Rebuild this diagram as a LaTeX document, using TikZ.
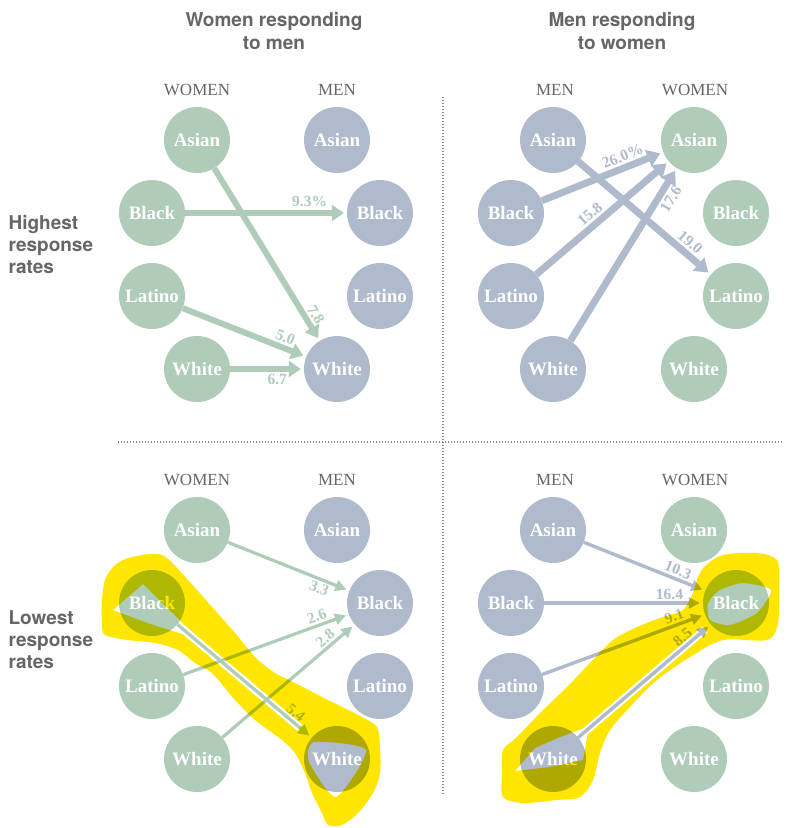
\documentclass[tikz,border=0pt]{standalone}
\usepackage{fontspec}
\setmainfont{Liberation Serif}
\newfontfamily\heros{TeX Gyre Heros}
\usetikzlibrary{arrows.meta}
\definecolor{cg}{HTML}{AFCCB9}
\definecolor{cb}{HTML}{AFBBCC}
\definecolor{txt}{HTML}{666666}
\definecolor{hl}{HTML}{FFE600}
\definecolor{dotc}{HTML}{8A8A8A}
\begin{document}
\begin{tikzpicture}[x=1pt,y=-1pt,
  gc/.style={circle,fill=cg,minimum size=66pt,inner sep=0pt,text=white,font=\fontsize{19}{19}\selectfont\bfseries},
  bc/.style={gc,fill=cb},
  hdr/.style={text=txt,font=\fontsize{17}{17}\selectfont},
  ttl/.style={text=txt,font=\heros\fontsize{19}{23}\selectfont\bfseries,align=center},
  rowlbl/.style={text=txt,font=\heros\fontsize{19}{22}\selectfont\bfseries,align=left,anchor=west},
  ga/.style={draw=cg,line width=6pt,-{Triangle[length=12pt,width=16pt]},shorten >=3pt},
  ba/.style={draw=cb,line width=7pt,-{Triangle[length=13pt,width=17pt]},shorten >=3pt},
  gt/.style={draw=cg,line width=3.2pt,-{Triangle[length=11pt,width=11pt]},shorten >=3pt},
  bt/.style={draw=cb,line width=3.4pt,-{Triangle[length=11pt,width=11pt]},shorten >=3pt},
  lbl/.style={font=\fontsize{15.5}{15.5}\selectfont\bfseries,sloped,inner sep=1.5pt},
  dots/.style={draw=dotc,line width=1.1pt,dash pattern=on 1.1pt off 1.9pt}
]
\fill[white] (0,0) rectangle (787,828);
\useasboundingbox (0,0) rectangle (787,828);

% titles and row labels
\node[ttl] (t1) at (274,31) {Women responding\\to men};
\node[ttl] (t2) at (622,31) {Men responding\\to women};
\node[rowlbl] (r1) at (5,245) {Highest\\response\\rates};
\node[rowlbl] (r2) at (5,640) {Lowest\\response\\rates};

% dotted separators
\coordinate (hs) at (118,442);
\coordinate (he) at (782,442);
\coordinate (vs) at (443,97);
\coordinate (ve) at (443,795);
\draw[dots] (hs) -- (he);
\draw[dots] (vs) -- (ve);

% headers and circles
\foreach \p/\dy in {t/0,b/390}{
  \node[hdr] (\p h1) at (197,90+\dy) {WOMEN};
  \node[hdr] (\p h2) at (337,90+\dy) {MEN};
  \node[hdr] (\p h3) at (555,90+\dy) {MEN};
  \node[hdr] (\p h4) at (695,90+\dy) {WOMEN};
  \foreach \n/\t/\xa/\xb/\y in {A/Asian/197/337/140, B/Black/152/380/213, L/Latino/152/380/296, W/White/197/337/369}{
    \node[gc] (\p LW\n) at (\xa,\y+\dy) {\t};
    \node[bc] (\p LM\n) at (\xb,\y+\dy) {\t};
  }
  \foreach \n/\t/\xa/\xb/\y in {A/Asian/553/694/140, B/Black/511/736/213, L/Latino/511/736/296, W/White/553/694/369}{
    \node[bc] (\p RM\n) at (\xa,\y+\dy) {\t};
    \node[gc] (\p RW\n) at (\xb,\y+\dy) {\t};
  }
}

% top left
\draw[ga] (tLWA) -- node[lbl,above=0.5pt,pos=0.88,text=cg]{7.8} (tLMW);
\draw[ga] (tLWB) -- node[lbl,above=1.5pt,pos=0.77,text=cg]{9.3\%} (tLMB);
\draw[ga] (tLWL) -- node[lbl,above=1pt,pos=0.80,text=cg]{5.0} (tLMW);
\draw[ga] (tLWW) -- node[lbl,below=1pt,pos=0.64,text=cg]{6.7} (tLMW);

% top right
\draw[ba] (tRMA) -- node[lbl,above=1pt,pos=0.79,text=cb]{19.0} (tRWL);
\draw[ba] (tRMB) -- node[lbl,above=1pt,pos=0.70,text=cb]{26.0\%} (tRWA);
\draw[ba] (tRML) -- node[lbl,above=1pt,pos=0.46,text=cb]{15.8} (tRWA);
\draw[ba] (tRMW) -- node[lbl,below=1pt,pos=0.855,text=cb]{17.6} (tRWA);

% bottom left
\draw[gt] (bLWA) -- node[lbl,below=0.5pt,pos=0.78,text=cg]{3.3} (bLMB);
\draw[gt] (bLWL) -- node[lbl,above=0.5pt,pos=0.825,text=cg]{2.6} (bLMB);
\draw[gt] (bLWW) -- node[lbl,above=0.5pt,pos=0.82,text=cg]{2.8} (bLMB);
\draw[gt] (bLWB) -- node[lbl,above=0.5pt,pos=0.84,text=cg]{5.4} (bLMW);

% bottom right
\draw[bt] (bRMA) -- node[lbl,above=0.5pt,pos=0.75,text=cb]{10.3} (bRWB);
\draw[bt] (bRMB) -- node[lbl,above=0.5pt,pos=0.79,text=cb]{16.4} (bRWB);
\draw[bt] (bRML) -- node[lbl,above=0.5pt,pos=0.83,text=cb]{9.1} (bRWB);
\draw[bt] (bRMW) -- node[lbl,above=0.5pt,pos=0.83,text=cb]{8.5} (bRWB);

% yellow marker highlights
\begin{scope}[blend mode=multiply]
\fill[hl,even odd rule]
  plot[smooth cycle,tension=0.5] coordinates {
    (102,600) (105,580) (115,565) (132,557) (162,555) (188,580) (212,607)
    (235,633) (255,657) (275,673) (295,683) (328,700) (362,717) (377,727)
    (380,747) (380,773) (373,793) (358,813) (342,825) (328,825) (322,813)
    (312,793) (305,773) (295,753) (282,740) (255,720) (235,700) (212,673)
    (195,663) (178,650) (155,643) (128,640) (105,635) (102,623)}
  (113,610) -- (143,584) -- (187.6,627.8) -- (302.6,724.8) -- (297.4,731)
    -- (182.4,634) -- (150,624) -- cycle
  plot[smooth cycle,tension=0.4] coordinates {
    (314,742) (366,750) (336,797) (309,762)};
\fill[hl,even odd rule]
  plot[smooth cycle,tension=0.5] coordinates {
    (502,773) (503,750) (517,737) (540,713) (567,687) (590,663) (613,640)
    (637,627) (663,617) (683,610) (693,593) (698,577) (705,566) (723,555)
    (757,553) (777,560) (779,583) (778,623) (767,640) (723,640) (690,657)
    (657,680) (630,707) (610,730) (600,753) (593,780) (580,797) (557,800)
    (523,803) (503,797)}
  (515,771) -- (535,748) -- (560,737) -- (582.4,728.7) -- (702.4,626.4)
    -- (707.6,632.4) -- (587.6,734.7) -- (583,760) -- (550,767) -- cycle
  plot[smooth cycle,tension=0.4] coordinates {
    (771,590) (743,583) (720,590) (708,603) (710,620) (730,625) (757,613)};
\end{scope}
\end{tikzpicture}
\end{document}
